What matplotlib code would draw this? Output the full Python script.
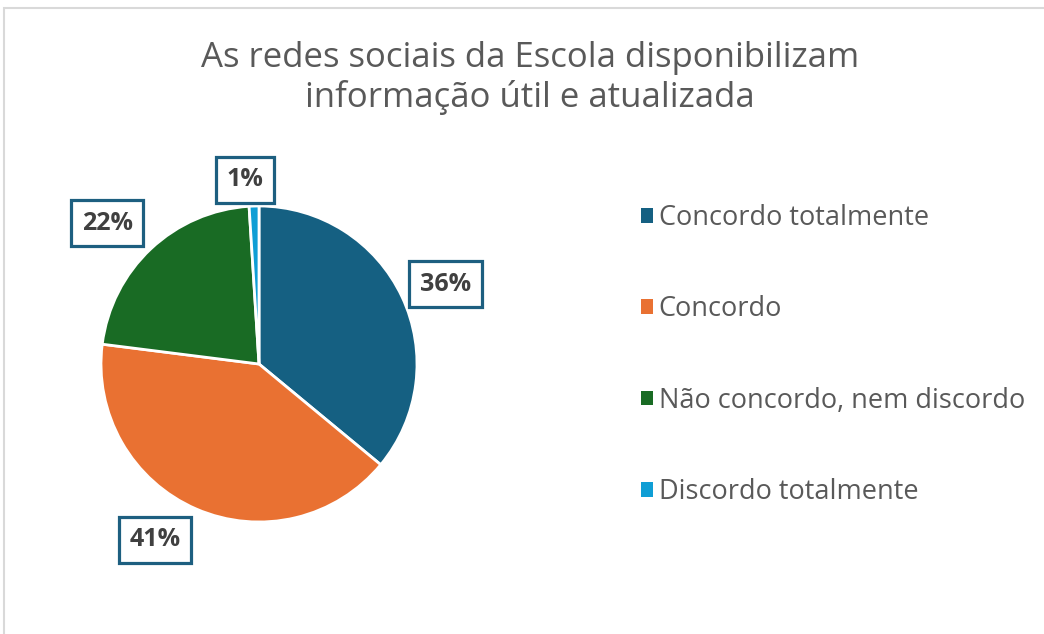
import matplotlib
matplotlib.use("Agg")
import matplotlib.pyplot as plt
from matplotlib.patches import Patch, Rectangle

# dados
categorias = ["Concordo totalmente", "Concordo", "Não concordo, nem discordo", "Discordo totalmente"]
valores = [36, 41, 22, 1]
cores = ["#156082", "#E97132", "#196B24", "#0F9ED5"]
titulo = "As redes sociais da Escola disponibilizam\ninformação útil e atualizada"

# pequenos ajustes dos rótulos (em raios), como o "melhor ajuste" do Excel
ajuste_rotulos = [(0.013, -0.044), (-0.146, 0.07), (-0.076, -0.05), (-0.05, -0.02)]

plt.rcParams["font.family"] = ["Open Sans", "DejaVu Sans"]

W, H = 1044, 634
fig = plt.figure(figsize=(W / 100, H / 100), dpi=100)

# moldura cinzenta do gráfico (continua para fora da imagem)
fig.patches.append(Rectangle((4 / W, -0.1), 1.2, (634 - 8) / H + 0.1,
                             transform=fig.transFigure, fill=False,
                             edgecolor="#D9D9D9", linewidth=1.5))

fig.text(530 / W, 1 - 78 / H, titulo, ha="center", va="center",
         fontsize=25, color="#595959", linespacing=1.18)

# pizza
cx, cy, r = 259, 364, 158
ax = fig.add_axes([(cx - r) / W, (H - cy - r) / H, 2 * r / W, 2 * r / H])
wedges, _, autotexts = ax.pie(
    valores, colors=cores, startangle=90, counterclock=False,
    autopct=lambda p: f"{p:.0f}%", pctdistance=1.29,
    wedgeprops=dict(edgecolor="white", linewidth=2),
)
for t, v, (dx, dy) in zip(autotexts, valores, ajuste_rotulos):
    t.set_fontsize(18)
    t.set_fontweight("bold")
    t.set_color("#404040")
    t.set_bbox(dict(boxstyle="square,pad=0.42", facecolor="white",
                    edgecolor="#1D5F80", linewidth=2.3))
    x, y = t.get_position()
    if v < 5:
        x, y = x * 0.92, y * 0.92
    t.set_position((x + dx, y + dy))
ax.set_xlim(-1, 1)
ax.set_ylim(-1, 1)
ax.set_aspect("equal")
ax.axis("off")

handles = [Patch(facecolor=c, edgecolor="none") for c in cores]
fig.legend(handles, categorias, loc="upper left",
           bbox_to_anchor=(641 / W, 1 - 204 / H), frameon=False,
           fontsize=19.5, labelcolor="#595959", handlelength=0.45,
           handleheight=0.45, handletextpad=0.2, labelspacing=2.34,
           borderpad=0, borderaxespad=0)

fig.savefig("out.png", dpi=100)
